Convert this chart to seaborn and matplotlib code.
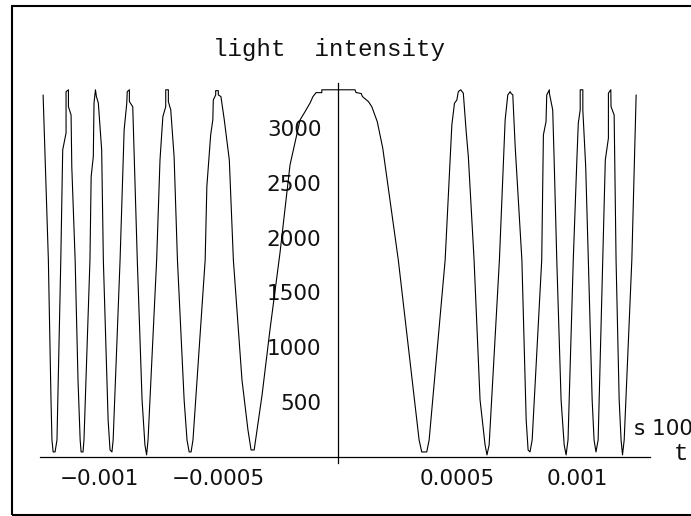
import matplotlib
matplotlib.use("Agg")
import matplotlib.pyplot as plt
import seaborn as sns
import pandas as pd
from matplotlib.patches import Rectangle
from matplotlib.ticker import MultipleLocator, FixedLocator

sns.set_theme(style="white")
plt.rcParams['font.family'] = ['DejaVu Sans']

# time in microseconds (converted to seconds below), intensity values
t_us = [
    -1234, -1212, -1201, -1197, -1192, -1184, -1176, -1160, -1152, -1138, -1138, -1128, -1128, -1117, -1114, -1100,
    -1088, -1079, -1075, -1067, -1063, -1038, -1033, -1024, -1021, -1015, -1011, -1003, -989, -982,
    -962, -954, -946, -941, -912, -895, -884, -882, -873, -873, -859, -840,
    -820, -808, -801, -795, -759, -745, -733, -721, -721, -710, -710, -700, -686, -672,
    -644, -632, -623, -615, -607, -556, -549, -533, -524, -522, -512, -512, -501, -501, -490, -484, -476, -455, -438,
    -402, -377, -364, -351, -339, -318, -285, -243, -201, -159, -138, -117, -105, -92, -68, -68,
    71, 75, 97, 102, 127, 141, 159, 164, 187, 252,
    310, 339, 350, 371, 381, 448, 476, 487, 497, 503, 513, 524, 536, 545, 569,
    594, 615, 623, 632, 675, 699, 710, 720, 723, 731, 741, 769,
    787, 795, 803, 812, 852, 859, 870, 873, 884, 884, 898, 904, 915,
    933, 946, 954, 962, 984, 999, 1005, 1013, 1013, 1024, 1024, 1036, 1047,
    1063, 1071, 1079, 1088, 1107, 1118, 1131, 1131, 1141, 1142, 1155, 1163,
    1176, 1184, 1190, 1197, 1229, 1247,
]
intensity = [
    3303, 1796, 518, 152, 43, 43, 152, 1796, 2801, 2956, 3333, 3350, 3196, 3120, 2648, 1796,
    700, 152, 43, 43, 152, 1796, 2557, 2740, 3230, 3350, 3288, 3230, 2801, 1796,
    335, 61, 43, 152, 1796, 2983, 3227, 3333, 3350, 3242, 3196, 1796,
    518, 107, 16, 152, 1796, 2709, 3105, 3196, 3350, 3350, 3242, 3166, 2740, 1796,
    518, 152, 43, 43, 152, 1796, 2466, 2938, 3075, 3257, 3303, 3342, 3342, 3303, 3288, 3196, 3075, 2709, 1796,
    700, 244, 61, 61, 244, 563, 1157, 1860, 2664, 3075, 3151, 3230, 3288, 3324, 3324, 3350,
    3350, 3326, 3315, 3288, 3242, 3196, 3090, 3059, 2816, 1796,
    700, 152, 43, 43, 152, 1796, 3029, 3227, 3257, 3333, 3350, 3319, 2968, 2740, 1796,
    518, 107, 16, 107, 1796, 3075, 3303, 3333, 3319, 3303, 2831, 1796,
    335, 61, 43, 152, 1796, 2938, 3059, 3303, 3350, 3319, 3166, 2709, 1796,
    518, 107, 16, 152, 1796, 2709, 3045, 3166, 3350, 3350, 3166, 2648, 1796,
    518, 152, 43, 152, 1796, 2709, 2908, 3319, 3350, 3196, 3120, 1796,
    518, 152, 16, 152, 1796, 3303,
]
x_ticks = [-0.001, -0.0005, 0.0005, 0.001]
x_tick_labels = ["\u22120.001", "\u22120.0005", "0.0005", "0.001"]
y_ticks = [500, 1000, 1500, 2000, 2500, 3000]
y_tick_labels = ["500", "1000", "1500", "2000", "2500", "3000"]

df = pd.DataFrame({"t": [v * 1e-6 for v in t_us], "I": intensity})

W, H = 691, 516
fig = plt.figure(figsize=(W / 100, H / 100), dpi=100)
ax = fig.add_axes([40 / W, 53 / H, 610 / W, 380 / H])

sns.lineplot(data=df, x="t", y="I", sort=False, estimator=None, color="black",
             linewidth=0.8, ax=ax)

ax.set_xlim(-0.001247, 0.001305)
ax.set_ylim(-58, 3412)
ax.set_xlabel("")
ax.set_ylabel("")
ax.grid(False)

for s in ["top", "right"]:
    ax.spines[s].set_visible(False)
ax.spines["left"].set_position(("data", 0))
ax.spines["bottom"].set_position(("data", 0))
for s in ["left", "bottom"]:
    ax.spines[s].set_color("black")
    ax.spines[s].set_linewidth(0.9)

ax.xaxis.set_major_locator(FixedLocator(x_ticks))
ax.set_xticklabels(x_tick_labels)
ax.xaxis.set_minor_locator(MultipleLocator(0.0001))
ax.yaxis.set_major_locator(FixedLocator(y_ticks))
ax.set_yticklabels(y_tick_labels)
ax.yaxis.set_minor_locator(MultipleLocator(100))

ax.tick_params(axis="both", which="major", direction="in", length=4.5, width=0.8,
               color="black", labelsize=15.5, labelcolor="#111111")
ax.tick_params(axis="both", which="minor", direction="in", length=2.2, width=0.7, color="black")
ax.tick_params(axis="y", which="major", pad=12)
ax.tick_params(axis="x", which="major", pad=9)
ax.set_facecolor("white")

fig.text(329 / W, 1 - 56 / H, "light  intensity", family="Liberation Mono",
         fontsize=17.4, ha="center", va="baseline", color="#111111")
fig.text(634 / W, 1 - 435 / H, "s 100", fontsize=15.5, ha="left", va="baseline",
         color="#111111")
fig.text(674 / W, 1 - 460 / H, "t", family="Liberation Mono", fontsize=17.4,
         ha="left", va="baseline", color="#111111")

fig.add_artist(Rectangle((12 / W, 1 / H), 1.2, (515 - 6) / H, transform=fig.transFigure,
                         fill=False, edgecolor="black", linewidth=1.5))

fig.savefig("out.png", dpi=100)
